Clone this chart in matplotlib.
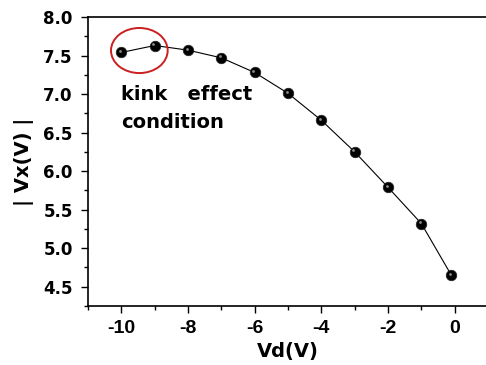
import matplotlib
matplotlib.use("Agg")
import matplotlib.pyplot as plt
from matplotlib.patches import Ellipse
import matplotlib.transforms as mtransforms

plt.rcParams['font.family'] = ['DejaVu Sans']
plt.rcParams['font.weight'] = 'bold'

vd = [-10, -9, -8, -7, -6, -5, -4, -3, -2, -1, -0.1]
vx = [7.54, 7.63, 7.57, 7.47, 7.28, 7.01, 6.66, 6.25, 5.79, 5.32, 4.65]
xticks = [-10, -8, -6, -4, -2, 0]
yticks = [4.5, 5.0, 5.5, 6.0, 6.5, 7.0, 7.5, 8.0]

fig = plt.figure(figsize=(4.86, 3.65), dpi=100)
ax = fig.add_axes([88/486, 59/365, 400/486, 289/365])

ax.plot(vd, vx, color='black', lw=0.8, zorder=2)
ax.plot(vd, vx, 'o', color='black', ms=7.6, mec='#222222', mew=0.5, zorder=3)
off = mtransforms.ScaledTranslation(-1.5/100, 1.6/100, fig.dpi_scale_trans)
ax.plot(vd, vx, 'o', color='#9a9a9a', ms=2.0, mew=0, alpha=0.9,
        transform=ax.transData + off, zorder=4)

ell = Ellipse((-9.46, 7.565), 1.70, 0.585, fill=False, edgecolor='#cc1f1f', lw=1.4, zorder=5)
ax.add_patch(ell)

ax.text(-10.0, 6.925, 'kink   effect', fontsize=14, fontweight='bold', va='baseline', ha='left')
ax.text(-10.0, 6.556, 'condition', fontsize=14, fontweight='bold', va='baseline', ha='left')

ax.set_xlim(-11, 0.95)
ax.set_ylim(4.25, 8.0)
ax.set_xticks(xticks)
ax.set_xticklabels([str(t) for t in xticks], fontfamily='Liberation Sans', fontweight='bold', fontsize=14)
ax.set_yticks(yticks)
ax.set_yticklabels([f'{t:.1f}' for t in yticks], fontfamily='DejaVu Sans', fontweight='bold', fontsize=12)
ax.set_xticks([-11, -9, -7, -5, -3, -1, 1], minor=True)
ax.set_yticks([4.25, 4.75, 5.25, 5.75, 6.25, 6.75, 7.25, 7.75], minor=True)

ax.tick_params(axis='x', which='major', direction='out', length=5, width=1, pad=5)
ax.tick_params(axis='y', which='major', direction='out', length=5, width=1, pad=6)
ax.tick_params(which='minor', direction='out', length=3, width=1)

ax.spines['right'].set_visible(False)
for s in ['left', 'bottom', 'top']:
    ax.spines[s].set_linewidth(1.2)

ax.set_xlabel('Vd(V)', fontsize=14, fontweight='bold', labelpad=3.5)
ax.set_ylabel('| Vx(V) |', fontsize=14, fontweight='bold', labelpad=7)

fig.savefig('out.png', dpi=100)
